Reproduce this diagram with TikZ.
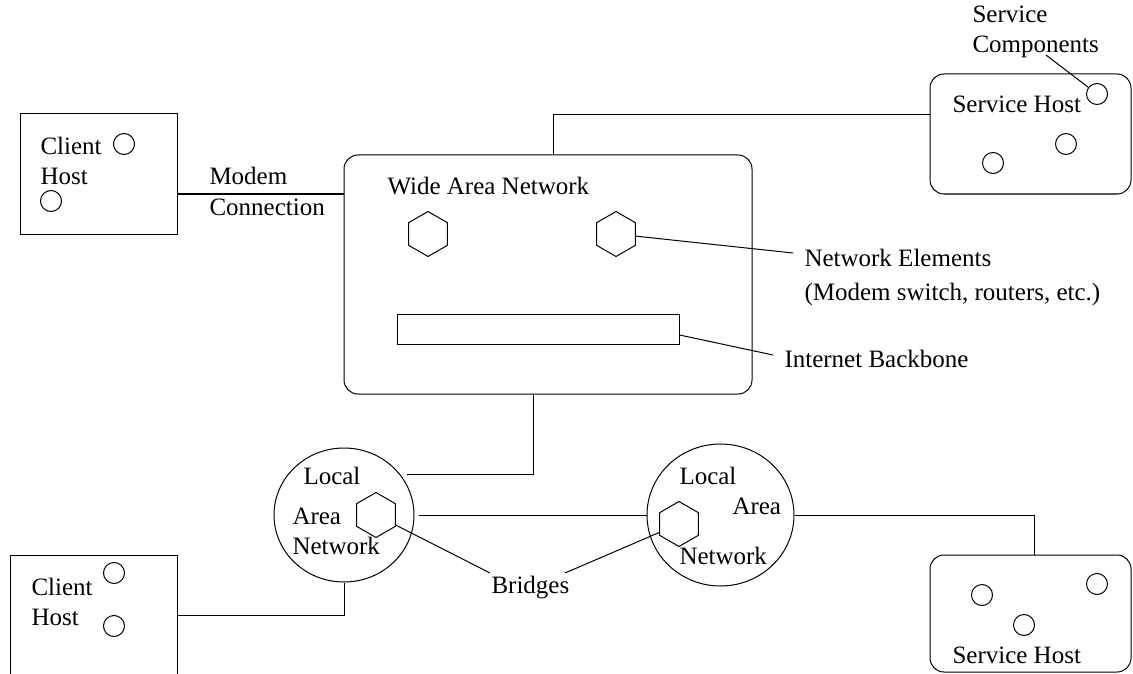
\documentclass[tikz,border=0pt]{standalone}
\usepackage{fontspec}
\setmainfont{Liberation Serif}
\usetikzlibrary{shapes.geometric}
\begin{document}
\begin{tikzpicture}[x=1pt,y=-1pt, line width=1pt,
  every node/.style={font=\fontsize{25}{30}\selectfont},
  lbl/.style={anchor=base west, inner sep=0pt},
  hostbox/.style={draw, rectangle, inner sep=0pt},
  roundbox/.style={draw, rectangle, rounded corners=14pt, inner sep=0pt},
  comp/.style={draw, circle, minimum size=21pt, inner sep=0pt},
  elem/.style={draw, regular polygon, regular polygon sides=6, minimum size=45pt, inner sep=0pt, shape border rotate=30},
  lan/.style={draw, ellipse, inner sep=0pt},
  wire/.style={draw}]
\useasboundingbox (0,0) rectangle (1133,674);
\clip (0,0) rectangle (1133,674);

% hosts and networks
\node[hostbox, minimum width=157pt, minimum height=120pt] (client1) at (98.5,174) {};
\node[roundbox, minimum width=408pt, minimum height=239pt] (wan) at (548,274.5) {};
\node[roundbox, minimum width=201pt, minimum height=120pt] (sh1) at (1030.5,134) {};
\node[roundbox, minimum width=201pt, minimum height=117pt] (sh2) at (1030.5,613.5) {};
\node[hostbox, minimum width=167pt, minimum height=170pt] (client2) at (93.5,640) {};
\node[hostbox, minimum width=282pt, minimum height=30pt] (backbone) at (538,329) {};
\node[lan, minimum width=140pt, minimum height=134pt] (lan1) at (344,515) {};
\node[lan, minimum width=147pt, minimum height=142pt] (lan2) at (720.5,515) {};

% network elements
\node[elem] (hexA) at (428,234) {};
\node[elem] (hexB) at (616,234) {};
\node[elem] (hexL1) at (376,515) {};
\node[elem] (hexL2) at (679,524) {};

% components
\node[comp] (c1a) at (124,144) {};
\node[comp] (c1b) at (51,201) {};
\node[comp] (s1a) at (1097,94) {};
\node[comp] (s1b) at (1066,144) {};
\node[comp] (s1c) at (993,163) {};
\node[comp] (c2a) at (114,573) {};
\node[comp] (c2b) at (114,626) {};
\node[comp] (s2a) at (982,595) {};
\node[comp] (s2b) at (1097,584) {};
\node[comp] (s2c) at (1024,625) {};

% labels
\node[lbl] (t1) at (40,155) {Client};
\node[lbl] (t2) at (40,185) {Host};
\node[lbl] (t3) at (209,185) {Modem};
\node[lbl] (t4) at (209,215) {Connection};
\node[lbl] (t5) at (387,194) {Wide Area Network};
\node[lbl] (t6) at (952,113) {Service Host};
\node[lbl] (t7) at (972,23) {Service};
\node[lbl] (comps) at (972,53) {Components};
\node[lbl] (ne1) at (804,266) {Network Elements};
\node[lbl] (ne2) at (804,300) {(Modem switch, routers, etc.)};
\node[lbl] (ib) at (784,367) {Internet Backbone};
\node[lbl] (t8) at (303,484) {Local};
\node[lbl] (t9) at (292,524) {Area};
\node[lbl] (t10) at (292,554) {Network};
\node[lbl] (t11) at (679,484) {Local};
\node[lbl] (t12) at (732,514) {Area};
\node[lbl] (t13) at (679,564) {Network};
\node[lbl] (br) at (491,593) {Bridges};
\node[lbl] (t14) at (31,595) {Client};
\node[lbl] (t15) at (31,625) {Host};
\node[lbl] (t16) at (952,663) {Service Host};

% connection points
\coordinate (modemA) at ([yshift=-20pt]client1.east);
\coordinate (wanTop) at ([xshift=5pt]wan.north);
\coordinate (shIn) at ([yshift=19pt]sh1.west);
\coordinate (wanBot) at ([xshift=-15pt]wan.south);
\coordinate (lan1In) at ([xshift=63pt,yshift=41pt]lan1.center);
\coordinate (lan1Out) at ([xshift=4pt]lan1.east);
\coordinate (sh2In) at ([xshift=3.5pt]sh2.north);
\coordinate (c2Out) at ([yshift=25pt]client2.east);
\coordinate (neEnd) at ([xshift=-11pt,yshift=13pt]ne1.base west);
\coordinate (bbStart) at ([yshift=-6pt]backbone.east);
\coordinate (ibEnd) at ([xshift=-11pt,yshift=12pt]ib.base west);
\coordinate (compEnd) at ([xshift=74pt,yshift=-2pt]comps.base west);
\coordinate (brA) at ([xshift=-1pt,yshift=20pt]br.base west);
\coordinate (brB) at ([xshift=74pt,yshift=20pt]br.base west);

% links
\draw (modemA) -- (modemA -| wan.west);
\draw (wanTop) |- (shIn);
\draw (wanBot) |- (lan1In);
\draw (lan1Out) -- (lan2.west);
\draw (lan2.east) -| (sh2In);
\draw (c2Out) -| (lan1.south);

% callouts
\draw (hexB) -- (neEnd);
\draw (bbStart) -- (ibEnd);
\draw (compEnd) -- (s1a);
\draw (hexL1) -- (brA);
\draw (brB) -- (hexL2);
\end{tikzpicture}
\end{document}
